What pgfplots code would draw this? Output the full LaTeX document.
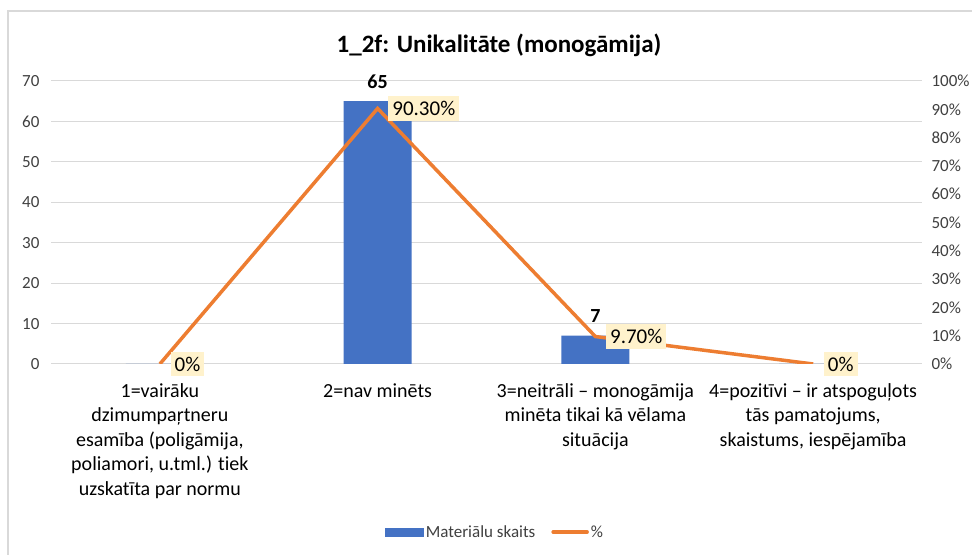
\documentclass[border=0pt]{standalone}
\usepackage{fontspec}
\setmainfont{Carlito}[Ligatures=NoCommon]
\usepackage{pgfplots}
\pgfplotsset{compat=1.18}

\definecolor{barblue}{RGB}{68,114,196}
\definecolor{lineorange}{RGB}{237,125,49}
\definecolor{tagfill}{RGB}{255,242,204}
\definecolor{gridgray}{RGB}{217,217,217}
\definecolor{txt}{RGB}{64,64,64}

\newcommand\ticksize{\fontsize{17bp}{20bp}\selectfont}
\newcommand\catsize{\fontsize{20bp}{24.5bp}\selectfont}

\pgfplotsset{
  base/.style={
    at={(51bp,191bp)}, anchor=south west,
    width=871bp, height=283bp, scale only axis,
    xmin=-0.5, xmax=3.5, ymin=0,
    axis line style={draw=none},
    major tick length=0pt,
    tick label style={font=\ticksize, text=txt},
  }
}

\begin{document}
\begin{tikzpicture}[x=1bp,y=1bp]
\useasboundingbox (0,0) rectangle (972,555);
\draw[gridgray, line width=1.5bp] (8,-20) -- (8,544) -- (990,544);
\node[anchor=base, font=\bfseries\fontsize{25bp}{30bp}\selectfont] at (499,502) {1\_2f: Unikalitāte (monogāmija)};

% counts (left axis)
\begin{axis}[base,
  ymax=70, ytick={0,10,...,70},
  yticklabels={0,10,20,30,40,50,60,70},
  yticklabel style={xshift=-8bp},
  ymajorgrids, grid style={gridgray, line width=1bp},
  xtick={0,1,2,3},
  xticklabels={
    {1=vairāku\\dzimumpaŗtneru\\esamība (poligāmija,\\poliamori, u.tml.) tiek\\uzskatīta par normu},
    {2=nav minēts},
    {3=neitrāli – monogāmija\\minēta tikai kā vēlama\\situācija},
    {4=pozitīvi – ir atspoguļots\\tās pamatojums,\\skaistums, iespējamība}},
  xticklabel style={font=\catsize, align=center, anchor=north, yshift=-16bp, text=black},
  ybar, bar width=68bp,
  point meta=explicit symbolic,
  nodes near coords,
  every node near coord/.append style={font=\bfseries\catsize, anchor=base, yshift=13bp, inner sep=0pt, text=black},
]
\addplot[fill=barblue, draw=none] coordinates {(0,0) [] (1,65) [65] (2,7) [7] (3,0) []};
\end{axis}

% share (right axis)
\begin{axis}[base,
  ymax=100, ytick={0,10,...,100},
  yticklabels={0\%,10\%,20\%,30\%,40\%,50\%,60\%,70\%,80\%,90\%,100\%},
  yticklabel pos=right,
  yticklabel style={xshift=6bp},
  xtick=\empty,
  legend style={at={(0.51,-0.594)}, anchor=center, draw=none, fill=none,
    legend columns=2, font=\ticksize, text=txt,
    /tikz/every even column/.append style={column sep=14bp}},
]
\addlegendimage{legend image code/.code={\fill[barblue] (0bp,-4bp) rectangle (38bp,4bp);}}
\addlegendentry{Materiālu skaits}
\addlegendimage{legend image code/.code={\draw[lineorange, line width=3.5bp, line cap=round] (0bp,0bp) -- (34bp,0bp);}}
\addlegendentry{\%}
\addplot[lineorange, line width=3.5bp, mark=none, forget plot,
  point meta=explicit symbolic, nodes near coords,
  every node near coord/.append style={anchor=west, xshift=9bp, fill=tagfill,
    font=\fontsize{21bp}{24bp}\selectfont, inner xsep=4bp, inner ysep=5bp, text=black}]
  coordinates {(0,0) [0\%] (1,90.3) [90.30\%] (2,9.7) [9.70\%] (3,0) [0\%]};
\end{axis}
\end{tikzpicture}
\end{document}
